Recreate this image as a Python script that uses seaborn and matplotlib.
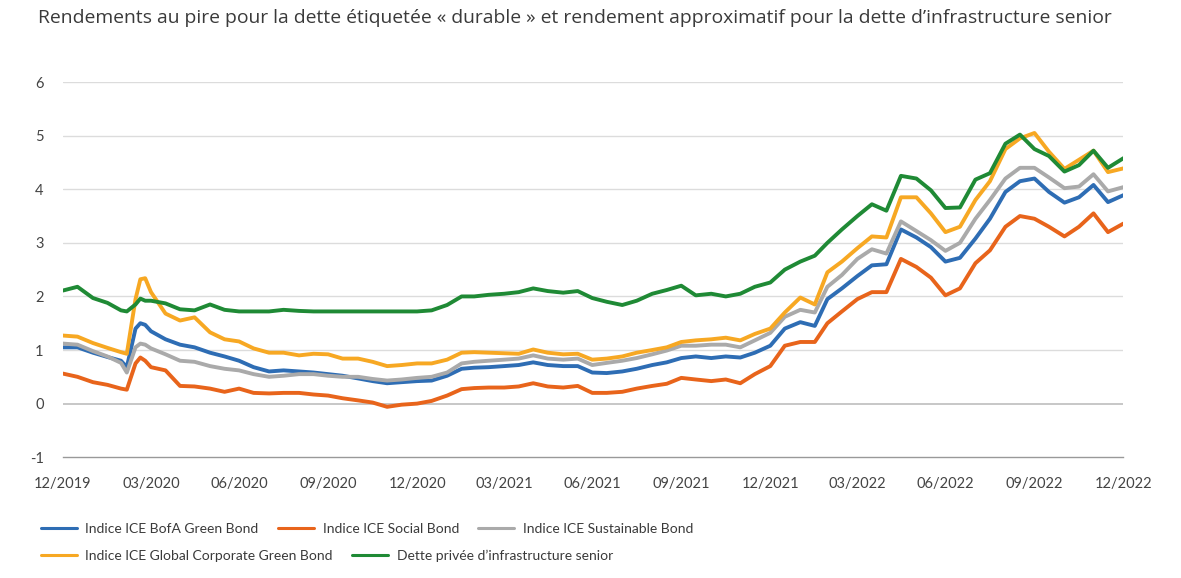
import pandas as pd
import matplotlib
matplotlib.use("Agg")
import matplotlib.pyplot as plt
import matplotlib.dates as mdates
from matplotlib.lines import Line2D
import seaborn as sns

# semi-monthly dates (15th and month end) plus a few extra points around the March 2020 spike
month_starts = pd.date_range("2020-01-01", "2022-12-01", freq="MS")
mid_months = month_starts + pd.Timedelta(days=14)
month_ends = pd.date_range("2020-01-01", "2023-01-01", freq="MS") - pd.Timedelta(days=1)
spike_days = pd.to_datetime(["2020-03-06", "2020-03-20", "2020-03-25"])
dates = mid_months.union(month_ends).union(spike_days)

series_names = [
    "Indice ICE BofA Green Bond",
    "Indice ICE Social Bond",
    "Indice ICE Sustainable Bond",
    "Indice ICE Global Corporate Green Bond",
    "Dette privée d\u2019infrastructure senior",
]
colors = ["#2E6DB4", "#E8641B", "#AAAAAA", "#F7A823", "#1F8A35"]

bofa_green = [
    1.05, 1.05, 0.95, 0.87, 0.80, 0.68, 1.40, 1.50, 1.47, 1.35,
    1.20, 1.10, 1.05, 0.95, 0.88, 0.80, 0.68, 0.60, 0.62, 0.60,
    0.58, 0.55, 0.52, 0.47, 0.42, 0.38, 0.40, 0.42, 0.43, 0.52,
    0.65, 0.67, 0.68, 0.70, 0.72, 0.77, 0.72, 0.70, 0.70, 0.58,
    0.57, 0.60, 0.65, 0.72, 0.77, 0.85, 0.88, 0.85, 0.88, 0.86,
    0.95, 1.08, 1.40, 1.52, 1.45, 1.95, 2.15, 2.38, 2.58, 2.60,
    3.25, 3.10, 2.92, 2.65, 2.72, 3.08, 3.45, 3.95, 4.15, 4.20,
    3.95, 3.75, 3.85, 4.08, 3.76, 3.89,
]
social = [
    0.56, 0.50, 0.40, 0.35, 0.28, 0.26, 0.75, 0.86, 0.80, 0.68,
    0.62, 0.33, 0.32, 0.28, 0.22, 0.28, 0.20, 0.19, 0.20, 0.20,
    0.17, 0.15, 0.10, 0.06, 0.02, -0.06, -0.02, 0.00, 0.05, 0.15,
    0.27, 0.29, 0.30, 0.30, 0.32, 0.38, 0.32, 0.30, 0.33, 0.20,
    0.20, 0.22, 0.28, 0.33, 0.37, 0.48, 0.45, 0.42, 0.45, 0.38,
    0.55, 0.70, 1.08, 1.15, 1.15, 1.50, 1.72, 1.95, 2.08, 2.08,
    2.70, 2.55, 2.35, 2.02, 2.15, 2.62, 2.86, 3.30, 3.50, 3.45,
    3.30, 3.12, 3.30, 3.55, 3.20, 3.36,
]
sustainable = [
    1.12, 1.10, 0.98, 0.88, 0.76, 0.58, 1.05, 1.12, 1.10, 1.03,
    0.92, 0.80, 0.78, 0.70, 0.65, 0.62, 0.55, 0.50, 0.52, 0.55,
    0.55, 0.52, 0.50, 0.50, 0.46, 0.43, 0.45, 0.48, 0.50, 0.58,
    0.75, 0.78, 0.80, 0.82, 0.84, 0.90, 0.84, 0.82, 0.84, 0.72,
    0.76, 0.80, 0.85, 0.92, 0.99, 1.08, 1.08, 1.10, 1.10, 1.05,
    1.18, 1.32, 1.62, 1.75, 1.70, 2.18, 2.40, 2.70, 2.88, 2.80,
    3.40, 3.22, 3.05, 2.85, 3.00, 3.45, 3.80, 4.20, 4.40, 4.40,
    4.22, 4.02, 4.05, 4.28, 3.96, 4.04,
]
global_corp_green = [
    1.27, 1.25, 1.13, 1.04, 0.96, 0.93, 1.95, 2.32, 2.34, 2.08,
    1.68, 1.55, 1.61, 1.33, 1.20, 1.16, 1.03, 0.95, 0.95, 0.90,
    0.93, 0.92, 0.84, 0.84, 0.78, 0.70, 0.72, 0.75, 0.75, 0.82,
    0.95, 0.96, 0.95, 0.94, 0.93, 1.01, 0.95, 0.92, 0.93, 0.82,
    0.84, 0.88, 0.95, 1.00, 1.05, 1.15, 1.18, 1.20, 1.23, 1.18,
    1.30, 1.40, 1.70, 1.98, 1.85, 2.45, 2.65, 2.90, 3.12, 3.10,
    3.85, 3.85, 3.55, 3.20, 3.30, 3.80, 4.15, 4.75, 4.95, 5.05,
    4.70, 4.38, 4.55, 4.72, 4.32, 4.39,
]
infra_senior = [
    2.11, 2.18, 1.97, 1.88, 1.74, 1.72, 1.85, 1.96, 1.92, 1.92,
    1.87, 1.76, 1.74, 1.85, 1.75, 1.72, 1.72, 1.72, 1.75, 1.73,
    1.72, 1.72, 1.72, 1.72, 1.72, 1.72, 1.72, 1.72, 1.74, 1.84,
    2.00, 2.00, 2.03, 2.05, 2.08, 2.15, 2.10, 2.07, 2.10, 1.97,
    1.90, 1.84, 1.92, 2.05, 2.12, 2.20, 2.02, 2.05, 2.00, 2.05,
    2.18, 2.26, 2.50, 2.65, 2.76, 3.00, 3.25, 3.50, 3.72, 3.60,
    4.25, 4.20, 3.98, 3.65, 3.66, 4.18, 4.30, 4.85, 5.02, 4.75,
    4.62, 4.33, 4.45, 4.72, 4.40, 4.58,
]

title = ("Rendements au pire pour la dette étiquetée « durable » et rendement "
         "approximatif pour la dette d\u2019infrastructure senior")

# long table for seaborn
values = [bofa_green, social, sustainable, global_corp_green, infra_senior]
frames = []
for name, vals in zip(series_names, values):
    frames.append(pd.DataFrame({"date": dates, "yield": vals, "series": name}))
df = pd.concat(frames, ignore_index=True)

sns.set_style("white")
plt.rcParams["font.family"] = ["Lato", "DejaVu Sans"]

fig = plt.figure(figsize=(11.81, 5.78), dpi=100)
ax = fig.add_axes([0.0533, 0.209, 0.898, 0.649])

for y in range(0, 7):
    ax.axhline(y, color="#bdbdbd" if y == 0 else "#dcdcdc", lw=1.2 if y == 0 else 1.0, zorder=0)

sns.lineplot(data=df, x="date", y="yield", hue="series", hue_order=series_names,
             palette=colors, linewidth=2.8, legend=False, ax=ax)

ax.set_xlim(pd.Timestamp("2019-12-31"), pd.Timestamp("2022-12-31"))
ax.set_ylim(-1, 6)
ax.set_yticks(range(-1, 7))
ax.set_yticklabels([str(v) for v in range(-1, 7)])
ax.set_xticks(month_ends[::3])
ax.xaxis.set_major_formatter(mdates.DateFormatter("%m/%Y"))
ax.set_xlabel("")
ax.set_ylabel("")

for side in ["top", "right", "left"]:
    ax.spines[side].set_visible(False)
ax.spines["bottom"].set_color("#999999")
ax.spines["bottom"].set_linewidth(1.0)
ax.tick_params(axis="x", direction="out", length=8, width=1, color="#999999",
               labelsize=10.5, labelcolor="#444444", pad=6)
ax.tick_params(axis="y", length=0, labelsize=10.5, labelcolor="#444444", pad=14)

fig.text(0.032, 0.968, title, fontsize=13.9, color="#3a3a3a", ha="left", va="center",
         family=["Open Sans", "DejaVu Sans"])

handles = [Line2D([0], [0], color=c, lw=2.2) for c in colors]
leg_kw = dict(frameon=False, fontsize=10, handlelength=2.6, handletextpad=0.6,
              columnspacing=1.4, labelcolor="#3a3a3a", borderaxespad=0)
fig.legend(handles[:3], series_names[:3], ncol=3, loc="center left",
           bbox_to_anchor=(0.030, 0.085), **leg_kw)
fig.legend(handles[3:], series_names[3:], ncol=2, loc="center left",
           bbox_to_anchor=(0.030, 0.038), **leg_kw)

fig.savefig("out.png", dpi=100)
